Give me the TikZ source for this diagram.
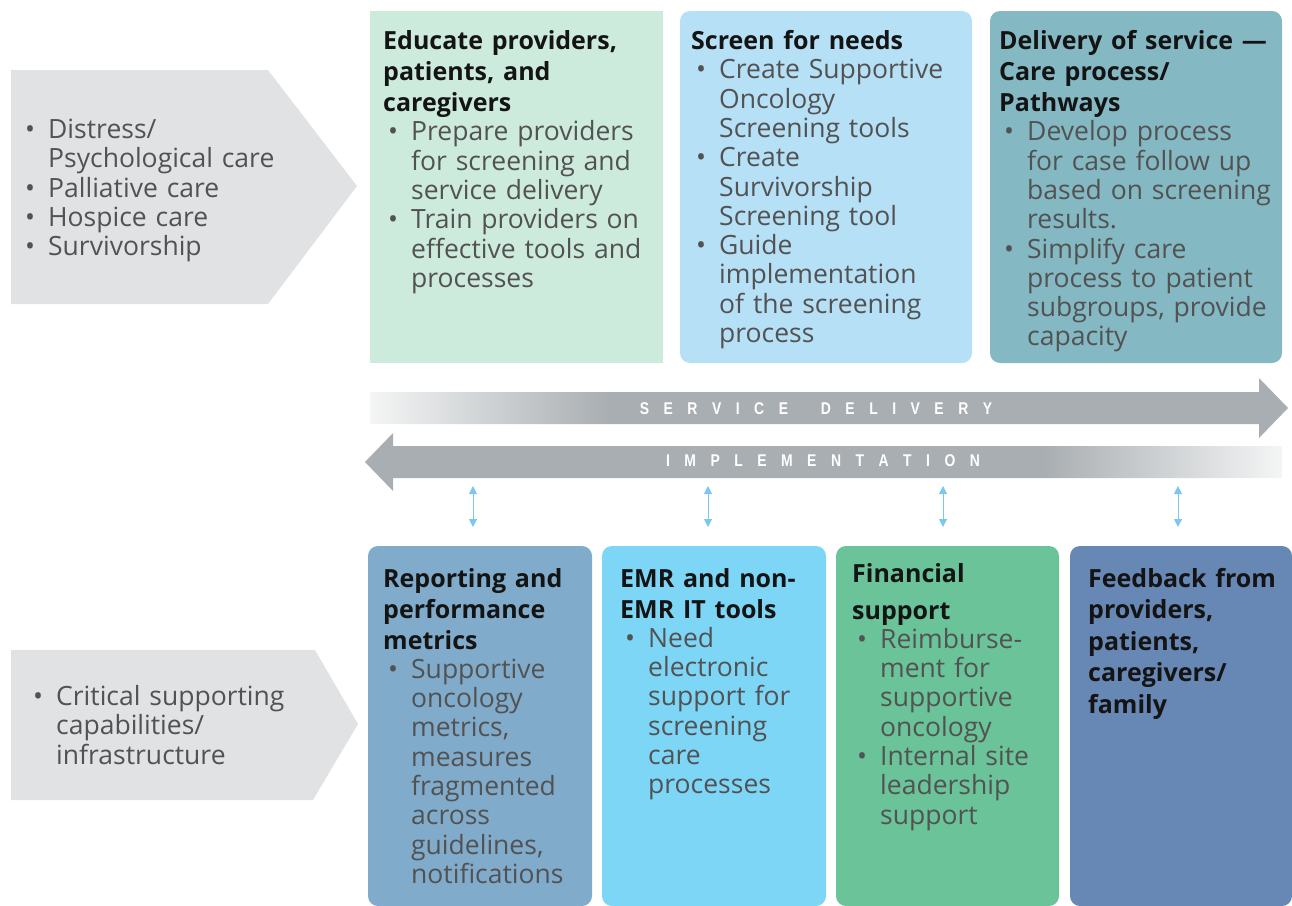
\documentclass[tikz,border=0pt]{standalone}
\usepackage{fontspec}
\setmainfont{Open Sans}
\newfontfamily\bandfont[FakeStretch=0.82]{Liberation Sans}
\usetikzlibrary{arrows.meta}

\definecolor{panelgray}{HTML}{E1E2E3}
\definecolor{educate}{HTML}{CDEBDD}
\definecolor{screen}{HTML}{B6E0F6}
\definecolor{delivery}{HTML}{84B8C3}
\definecolor{reporting}{HTML}{80ABCB}
\definecolor{emr}{HTML}{7ED6F7}
\definecolor{financial}{HTML}{6AC399}
\definecolor{feedback}{HTML}{6787B5}
\definecolor{bandgray}{HTML}{A9AEB2}
\definecolor{bandlight}{HTML}{F4F5F5}
\definecolor{linkblue}{HTML}{7CC6EF}
\definecolor{titleink}{HTML}{141414}
\definecolor{bodyink}{HTML}{525252}

% band shadings: light at the tail end, solid grey elsewhere
\pgfdeclarehorizontalshading{fadeleft}{100bp}{color(0bp)=(bandlight); color(25bp)=(bandlight); color(38bp)=(bandgray); color(100bp)=(bandgray)}
\pgfdeclarehorizontalshading{faderight}{100bp}{color(0bp)=(bandgray); color(62bp)=(bandgray); color(75bp)=(bandlight); color(100bp)=(bandlight)}

% heading lines of a box
\newcommand\boxtitle[2][31]{{\fontsize{25}{#1}\selectfont\bfseries\color{titleink}#2\par}}
% bullet item with hanging indent (first one in a block, then the rest)
\newcommand\bfirst[1]{\hangindent=28pt\hangafter=1\noindent\hspace*{5pt}\makebox[23pt][l]{•}#1\par}
\newcommand\bitem[1]{\par\bfirst{#1}}
% letter-spaced caption on the bands
\newcommand\spreadletters[1]{\spreadaux#1\relax\unskip}
\def\spreadaux#1{\ifx#1\relax\else#1\hskip 14.5pt\expandafter\spreadaux\fi}

\begin{document}
\begin{tikzpicture}[x=1pt,y=-1pt,
  txt/.style={anchor=base west,inner sep=0pt,text width=320pt,align=left,
    font=\fontsize{26.5}{29.3}\selectfont,text=bodyink},
  bandlabel/.style={text=white,font=\bandfont\bfseries\fontsize{17}{17}\selectfont,inner sep=0pt},
  link/.style={draw=linkblue,line width=1pt,{Triangle[width=8pt,length=8pt]}-{Triangle[width=8pt,length=8pt]}},
  rbox/.style={rounded corners=10pt}]
\useasboundingbox (0,0) rectangle (1292,905);

% left panels
\fill[panelgray] (11,70) -- (268,70) -- (357,186) -- (268,304) -- (11,304) -- cycle;
\fill[panelgray] (11,650) -- (315,650) -- (358,724) -- (313,800) -- (11,800) -- cycle;

% upper boxes
\fill[educate] (370,11) rectangle (663,363);
\fill[screen,rbox] (680,11) rectangle (972,363);
\fill[delivery,rbox] (990,11) rectangle (1282,363);

% lower boxes
\fill[reporting,rbox] (368,546) rectangle (592,906);
\fill[emr,rbox] (602,546) rectangle (826,906);
\fill[financial,rbox] (836,546) rectangle (1059,906);
\fill[feedback,rbox] (1070,546) rectangle (1292,906);

% bands
\shade[shading=fadeleft] (370,392) -- (1259,392) -- (1259,378) -- (1288,408) -- (1259,438) -- (1259,424) -- (370,424) -- cycle;
\shade[shading=faderight] (1282,446) -- (393,446) -- (393,433) -- (365,462) -- (393,491) -- (393,478) -- (1282,478) -- cycle;
\node[bandlabel] (sd) at (816,409) {\spreadletters{SERVICE~DELIVERY}};
\node[bandlabel] (im) at (823,461) {\spreadletters{IMPLEMENTATION}};

% links between bands and lower boxes
\foreach \i/\x in {1/473,2/708,3/943,4/1178}{
  \coordinate (up\i) at (\x,486);
  \coordinate (dn\i) at (\x,527);
  \draw[link] (up\i) -- (dn\i);
}

% texts
\node[txt] (careareas) at (20,138.5) {%
  \bfirst{Distress/\newline Psychological care}%
  \bitem{Palliative care}%
  \bitem{Hospice care}%
  \bitem{Survivorship}};

\node[txt] (support) at (28,705.5) {%
  \bfirst{Critical supporting\newline capabilities/\newline infrastructure}};

\node[txt] (educatetxt) at (383,49.5) {%
  \boxtitle{Educate providers,\\patients, and\\caregivers}%
  \bitem{Prepare providers\newline for screening and\newline service delivery}%
  \bitem{Train providers on\newline effective tools and\newline processes}};

\node[txt] (screentxt) at (691,49.5) {%
  \boxtitle{Screen for needs}%
  \bitem{Create Supportive\newline Oncology\newline Screening tools}%
  \bitem{Create\newline Survivorship\newline Screening tool}%
  \bitem{Guide\newline implementation\newline of the screening\newline process}};

\node[txt] (deliverytxt) at (999,49.5) {%
  \boxtitle{Delivery of service —\\Care process/\\Pathways}%
  \bitem{Develop process\newline for case follow up\newline based on screening\newline results.}%
  \bitem{Simplify care\newline process to patient\newline subgroups, provide\newline capacity}};

\node[txt] (reportingtxt) at (383,587) {%
  \boxtitle{Reporting and\\performance\\metrics}%
  \bitem{Supportive\newline oncology\newline metrics,\newline measures\newline fragmented\newline across\newline guidelines,\newline notifications}};

\node[txt] (emrtxt) at (620,587) {%
  \boxtitle{EMR and non-\\EMR IT tools}%
  \bitem{Need\newline electronic\newline support for\newline screening\newline care\newline processes}};

\node[txt] (financialtxt) at (852,582) {%
  \boxtitle[37]{Financial\\support}%
  \bitem{Reimburse-\newline ment for\newline supportive\newline oncology}%
  \bitem{Internal site\newline leadership\newline support}};

\node[txt] (feedbacktxt) at (1088,587) {%
  \boxtitle[31.5]{Feedback from\\providers,\\patients,\\caregivers/\\family}};
\end{tikzpicture}
\end{document}
